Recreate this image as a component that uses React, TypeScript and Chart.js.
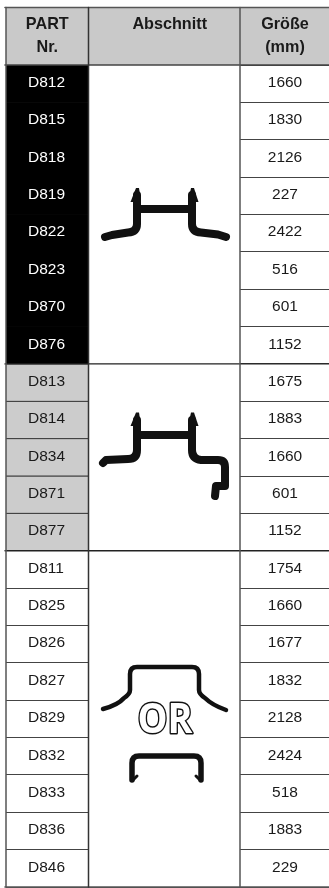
import React, { useEffect, useRef } from "react";
import { Chart, registerables } from "chart.js";

Chart.register(...registerables);

const parts = [
  "D812", "D815", "D818", "D819", "D822", "D823", "D870", "D876",
  "D813", "D814", "D834", "D871", "D877",
  "D811", "D825", "D826", "D827", "D829", "D832", "D833", "D836", "D846",
];
const sizes = [
  "1660", "1830", "2126", "227", "2422", "516", "601", "1152",
  "1675", "1883", "1660", "601", "1152",
  "1754", "1660", "1677", "1832", "2128", "2424", "518", "1883", "229",
];
const groupLengths = [8, 5, 9];
const groupFills = ["#000000", "#cccccc", "rgba(0,0,0,0)"];
const groupTextColors = ["#ffffff", "#1a1a1a", "#1a1a1a"];
const headers = [["PART", "Nr."], ["Abschnitt"], ["Größe", "(mm)"]];

const WIDTH = 329;
const HEIGHT = 888;
const EDGE_LEFT = 6;
const EDGE_1 = 88.5;
const EDGE_2 = 240;
const HEADER_TOP = 7.5;
const HEADER_BOTTOM = 65;
const TABLE_BOTTOM = 887;
const FONT = "'Liberation Sans', Arial, sans-serif";

const groupOf = (i: number) => {
  let sum = 0;
  for (let g = 0; g < groupLengths.length; g++) {
    sum += groupLengths[g];
    if (i < sum) return g;
  }
  return groupLengths.length - 1;
};

function arrow(ctx: CanvasRenderingContext2D, x: number, tip: number, base: number, l: number, r: number) {
  ctx.beginPath();
  ctx.moveTo(x - 1, tip);
  ctx.lineTo(x + 2, tip);
  ctx.lineTo(r, base);
  ctx.lineTo(l, base);
  ctx.closePath();
  ctx.fill();
}

function drawHat(ctx: CanvasRenderingContext2D) {
  ctx.lineWidth = 8;
  ctx.beginPath();
  ctx.moveTo(105, 237);
  ctx.lineTo(112, 235);
  ctx.lineTo(128, 232.5);
  ctx.quadraticCurveTo(137, 232, 137, 224);
  ctx.lineTo(137, 195);
  ctx.moveTo(137, 209);
  ctx.lineTo(192, 209);
  ctx.moveTo(192, 195);
  ctx.lineTo(192, 224);
  ctx.quadraticCurveTo(192, 232, 201, 232.5);
  ctx.lineTo(218, 234.5);
  ctx.lineTo(226, 237);
  ctx.stroke();
  arrow(ctx, 137, 188, 202, 130.5, 141);
  arrow(ctx, 192, 188, 202, 188, 198.5);
}

function drawHatHook(ctx: CanvasRenderingContext2D) {
  ctx.lineWidth = 8;
  ctx.beginPath();
  ctx.moveTo(103, 463);
  ctx.lineTo(106, 460);
  ctx.lineTo(128, 459);
  ctx.quadraticCurveTo(137, 459, 137, 450);
  ctx.lineTo(137, 420);
  ctx.moveTo(137, 435);
  ctx.lineTo(192, 435);
  ctx.moveTo(192, 420);
  ctx.lineTo(192, 450);
  ctx.quadraticCurveTo(192, 459, 201, 460);
  ctx.lineTo(218, 460);
  ctx.quadraticCurveTo(225, 460, 225, 467);
  ctx.lineTo(225, 486);
  ctx.lineTo(216, 486);
  ctx.lineTo(215, 496);
  ctx.stroke();
  arrow(ctx, 137, 412.5, 426, 130.5, 141);
  arrow(ctx, 192, 412.5, 426, 188, 198.5);
}

function drawThinHat(ctx: CanvasRenderingContext2D) {
  ctx.lineWidth = 4.5;
  ctx.beginPath();
  ctx.moveTo(103, 709);
  ctx.quadraticCurveTo(118, 705, 124, 698);
  ctx.quadraticCurveTo(130, 694, 130, 690);
  ctx.lineTo(130, 674);
  ctx.quadraticCurveTo(130, 667, 137, 667);
  ctx.lineTo(192, 667);
  ctx.quadraticCurveTo(199, 667, 199, 674);
  ctx.lineTo(199, 690);
  ctx.quadraticCurveTo(199, 694, 205, 698);
  ctx.quadraticCurveTo(212, 705, 226, 710);
  ctx.stroke();

  ctx.font = `bold 42px 'Open Sans', ${FONT}`;
  ctx.textAlign = "center";
  ctx.textBaseline = "alphabetic";
  ctx.lineWidth = 3;
  ctx.strokeStyle = "#111111";
  ctx.fillStyle = "#ffffff";
  ctx.save();
  ctx.translate(165, 733);
  ctx.scale(0.9, 1);
  ctx.strokeText("OR", 0, 0);
  ctx.fillText("OR", 0, 0);
  ctx.restore();
  ctx.strokeStyle = "#111111";
  ctx.fillStyle = "#111111";

  ctx.lineWidth = 5.5;
  ctx.beginPath();
  ctx.moveTo(132, 780);
  ctx.lineTo(132, 763);
  ctx.quadraticCurveTo(132, 756, 139, 756);
  ctx.lineTo(194, 756);
  ctx.quadraticCurveTo(201, 756, 201, 763);
  ctx.lineTo(201, 780);
  ctx.stroke();
  ctx.lineWidth = 3;
  ctx.beginPath();
  ctx.moveTo(133, 780);
  ctx.lineTo(137, 776);
  ctx.moveTo(200, 780);
  ctx.lineTo(196, 776);
  ctx.stroke();
}

const tablePlugin = {
  id: "tablePlugin",
  afterDatasetsDraw(chart: any) {
    const { ctx, scales } = chart;
    const x = scales.x;
    const y = scales.y;
    const x0 = x.getPixelForValue(EDGE_LEFT);
    const x1 = x.getPixelForValue(EDGE_1);
    const x2 = x.getPixelForValue(EDGE_2);
    const rowH = y.getPixelForValue(1) - y.getPixelForValue(0);

    ctx.save();
    ctx.fillStyle = "#c9c9c9";
    ctx.fillRect(x0, HEADER_TOP, WIDTH - x0, HEADER_BOTTOM - HEADER_TOP);

    ctx.filter = "blur(0.7px)";
    ctx.strokeStyle = "#111111";
    ctx.fillStyle = "#111111";
    ctx.lineCap = "round";
    ctx.lineJoin = "round";
    drawHat(ctx);
    drawHatHook(ctx);
    drawThinHat(ctx);
    ctx.filter = "none";

    const hLine = (py: number, color: string, w: number) => {
      ctx.strokeStyle = color;
      ctx.lineWidth = w;
      ctx.beginPath();
      ctx.moveTo(x0 - 1, py);
      ctx.lineTo(WIDTH, py);
      ctx.stroke();
    };
    hLine(HEADER_TOP, "#555555", 1.6);
    hLine(HEADER_BOTTOM, "#444444", 1.6);
    hLine(TABLE_BOTTOM, "#555555", 1.6);
    let acc = 0;
    groupLengths.slice(0, -1).forEach((n) => {
      acc += n;
      hLine(y.getPixelForValue(acc) - rowH / 2, "#222222", 1.4);
    });

    const vLine = (px: number, color: string) => {
      ctx.strokeStyle = color;
      ctx.lineWidth = 1.5;
      ctx.beginPath();
      ctx.moveTo(px, HEADER_TOP);
      ctx.lineTo(px, TABLE_BOTTOM);
      ctx.stroke();
    };
    vLine(x0, "#555555");
    vLine(x1, "#333333");
    vLine(x2, "#555555");

    ctx.fillStyle = "#1a1a1a";
    ctx.font = `bold 16.2px ${FONT}`;
    ctx.textAlign = "center";
    ctx.textBaseline = "alphabetic";
    const centres = [47.3, 169.7, 285];
    headers.forEach((lines, c) => {
      const cx = x.getPixelForValue(centres[c]);
      lines.forEach((line, l) => ctx.fillText(line, cx, 28.5 + l * 23.5));
    });

    ctx.font = `15.5px ${FONT}`;
    ctx.textBaseline = "middle";
    sizes.forEach((s, i) => {
      ctx.fillText(s, x.getPixelForValue(285), y.getPixelForValue(i) - 1);
    });
    ctx.restore();
  },
};

export default function App() {
  const ref = useRef<HTMLCanvasElement>(null);
  useEffect(() => {
    document.body.style.margin = "0";
    document.body.style.background = "#ffffff";
    const chart = new Chart(ref.current as HTMLCanvasElement, {
      type: "bar",
      data: {
        labels: parts,
        datasets: [
          {
            label: "PART Nr.",
            data: parts.map(() => [EDGE_LEFT, EDGE_1]),
            backgroundColor: parts.map((_, i) => groupFills[groupOf(i)]),
            borderColor: "#444444",
            borderWidth: (c: any) =>
              groupOf(c.dataIndex) === 1
                ? { top: 1, bottom: 1, left: 0, right: 0 }
                : 0,
            borderSkipped: false,
            barPercentage: 1.01,
            categoryPercentage: 1,
          },
          {
            label: "Abschnitt",
            data: parts.map(() => [EDGE_1, EDGE_2]),
            backgroundColor: "#ffffff",
            borderWidth: 0,
            barPercentage: 1.05,
            categoryPercentage: 1,
          },
        ],
      },
      options: {
        indexAxis: "y",
        responsive: false,
        animation: false,
        events: [],
        layout: {
          autoPadding: false,
          padding: { left: EDGE_LEFT, top: 0, right: 0, bottom: HEIGHT - TABLE_BOTTOM },
        },
        plugins: { legend: { display: false }, tooltip: { enabled: false }, title: { display: false } },
        datasets: { bar: { grouped: false } },
        scales: {
          x: {
            type: "linear",
            position: "top",
            min: EDGE_LEFT,
            max: WIDTH,
            display: true,
            border: { display: false },
            grid: { display: false, drawTicks: false },
            ticks: { display: false },
            afterFit: (s: any) => { s.height = HEADER_BOTTOM; },
          },
          y: {
            type: "category",
            offset: true,
            border: { display: false },
            grid: { offset: true, color: "#444444", lineWidth: 1, drawTicks: false },
            afterFit: (s: any) => {
              s.width = 0;
              s.paddingTop = 0;
              s.paddingBottom = 0;
            },
            ticks: {
              mirror: true,
              z: 1,
              padding: 22,
              labelOffset: -1,
              autoSkip: false,
              font: { family: FONT, size: 15.5 },
              color: (c: any) => groupTextColors[groupOf(c.index)],
            },
          },
        },
      },
      plugins: [tablePlugin],
    } as any);
    return () => chart.destroy();
  }, []);
  return (
    <canvas ref={ref} width={WIDTH} height={HEIGHT} style={{ display: "block", width: WIDTH, height: HEIGHT }} />
  );
}
